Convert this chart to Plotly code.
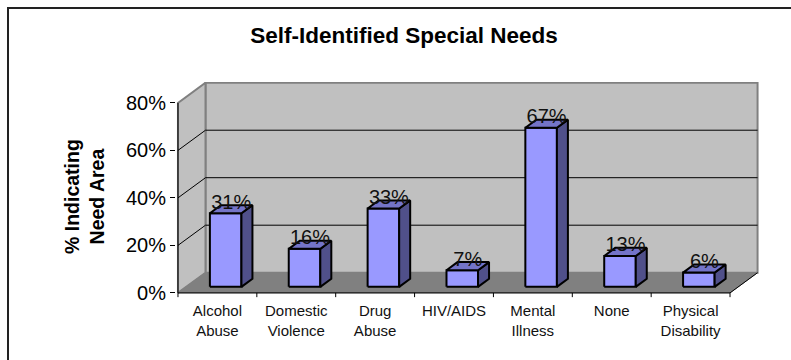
import plotly.graph_objects as go

# ---- data ----
categories = ["Alcohol<br>Abuse", "Domestic<br>Violence", "Drug<br>Abuse", "HIV/AIDS",
              "Mental<br>Illness", "None", "Physical<br>Disability"]
values = [31, 16, 33, 7, 67, 13, 6]
y_ticks = [0, 20, 40, 60, 80]
y_tick_labels = [f"{t}%" for t in y_ticks]
title_text = "Self-Identified Special Needs"
y_title = "% Indicating<br>Need Area"

# ---- style constants ----
FONT = "Liberation Sans, Arial, sans-serif"
FRONT = "#9999ff"
SIDE = "#50508a"
TOP = "#7474c8"
WALL = "#c0c0c0"
FLOOR = "#808080"
EDGE = "#808080"
DX, DY = 0.349, 8.5          # depth of the 3D box (x units, % units)
F0, F1 = 0.3, 0.7            # bar depth fractions
HALF = 0.2                   # bar half width
YMAX = 80

W, H = 791, 360
L, R, T, B = 176, 31, 82, 60
XR = [-0.525, 6.88]
YR = [-3, 88.8]
PW = W - L - R
PH = H - T - B

n = len(values)
x0, x1 = -0.5, n - 0.5

fig = go.Figure()

def poly(xs, ys, fill, line_color, lw):
    fig.add_trace(go.Scatter(x=xs + [xs[0]], y=ys + [ys[0]], mode="lines", fill="toself",
                             fillcolor=fill, line=dict(color=line_color, width=lw),
                             hoverinfo="skip", showlegend=False))

def line(xs, ys, color, lw):
    fig.add_trace(go.Scatter(x=xs, y=ys, mode="lines", line=dict(color=color, width=lw),
                             hoverinfo="skip", showlegend=False))

# back wall, left wall, floor
poly([x0 + DX, x1 + DX, x1 + DX, x0 + DX], [DY, DY, YMAX + DY, YMAX + DY], WALL, EDGE, 2)
poly([x0, x0, x0 + DX, x0 + DX], [0, YMAX, YMAX + DY, DY], WALL, EDGE, 2)
poly([x0, x1, x1 + DX, x0 + DX], [0, 0, DY, DY], FLOOR, FLOOR, 1)
# gridlines
for g in y_ticks[1:-1]:
    line([x0, x0 + DX, x1 + DX], [g, g + DY, g + DY], "black", 1)
# floor right edge
line([x1, x1 + DX], [0, DY], "black", 1)
# axes lines
line([x0, x0], [0, YMAX], "black", 1)
line([x0, x1], [0, 0], "black", 1)
for k in range(n + 1):
    line([x0 + k, x0 + k], [0, -1.8], "black", 1)

# bars
fx0, fy0 = F0 * DX, F0 * DY
ddx, ddy = (F1 - F0) * DX, (F1 - F0) * DY
for i, v in enumerate(values):
    xl, xr = i - HALF + fx0, i + HALF + fx0
    yb, yt = fy0, fy0 + v
    poly([xl, xr, xr, xl], [yb, yb, yt, yt], FRONT, "black", 2)
    poly([xr, xr + ddx, xr + ddx, xr], [yb, yb + ddy, yt + ddy, yt], SIDE, "black", 2)
    poly([xl, xr, xr + ddx, xl + ddx], [yt, yt, yt + ddy, yt + ddy], TOP, "black", 2)

# data labels
fig.add_trace(go.Scatter(
    x=[i + fx0 + ddx / 2 for i in range(n)],
    y=[v + fy0 + ddy / 2 + 2.3 for v in values],
    mode="text", text=[f"{v}%" for v in values], textposition="middle center",
    textfont=dict(family=FONT, size=20, color="#111111"),
    hoverinfo="skip", showlegend=False, cliponaxis=False))

def px2paper_x(px):
    return (px - L) / PW

def px2paper_y(py):
    return (H - B - py) / PH

fig.update_layout(
    width=W, height=H,
    margin=dict(l=L, r=R, t=T, b=B),
    paper_bgcolor="white", plot_bgcolor="rgba(0,0,0,0)",
    font=dict(family=FONT, color="black"),
    title=dict(text=f"<b>{title_text}</b>", x=404 / W, xanchor="center",
               y=1 - 35 / H, yanchor="middle", yref="container",
               font=dict(family=FONT, size=22.5, color="black")),
    xaxis=dict(range=XR, showgrid=False, zeroline=False, showline=False,
               tickmode="array", tickvals=list(range(n)), ticktext=categories,
               ticks="", tickfont=dict(family=FONT, size=15, color="#111111")),
    yaxis=dict(range=YR, showgrid=False, zeroline=False, showline=False,
               tickmode="array", tickvals=y_ticks, ticktext=y_tick_labels,
               ticks="outside", ticklen=5, tickcolor="black", tickwidth=1,
               tickfont=dict(family=FONT, size=20, color="black")),
    shapes=[dict(type="rect", xref="paper", yref="paper",
                 x0=px2paper_x(8), x1=px2paper_x(W + 10),
                 y0=px2paper_y(H + 10), y1=px2paper_y(8),
                 line=dict(color="#222222", width=2), fillcolor="rgba(0,0,0,0)")],
    annotations=[dict(text=f"<b>{y_title}</b>", textangle=-90, xref="paper", yref="paper",
                      x=px2paper_x(84), y=px2paper_y(197), xanchor="center", yanchor="middle",
                      showarrow=False, font=dict(family=FONT, size=19.5, color="black"))],
)

fig.write_html("out.html")
